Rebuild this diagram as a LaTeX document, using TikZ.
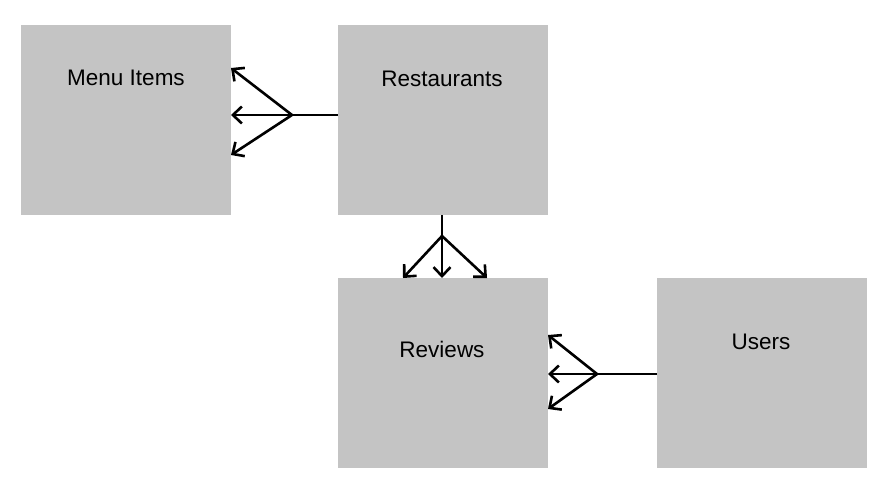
\documentclass[tikz,border=0pt]{standalone}
\usepackage{fontspec}
\setmainfont{Liberation Sans}
\usetikzlibrary{arrows.meta}
\definecolor{boxgray}{HTML}{C4C4C4}
\tikzset{
  entity/.style={fill=boxgray, draw=none, minimum width=210pt, minimum height=190pt, inner sep=0pt, anchor=north west},
  lbl/.style={font=\fontsize{22.5}{26}\selectfont, text=black, inner sep=0pt},
  conn/.style={line width=2.6pt, black},
  crow/.style={conn, -{Straight Barb[length=9pt,width=17pt,line width=2.6pt]}}
}
\begin{document}
\begin{tikzpicture}[x=1pt,y=-1pt]
\useasboundingbox (0,0) rectangle (878,482);
\node[entity] (menu) at (21,25) {};
\node[entity] (rest) at (338,25) {};
\node[entity] (rev) at (338,278) {};
\node[entity] (users) at (657,278) {};
\node[lbl] (tmenu) at (126,78) {Menu Items};
\node[lbl] (trest) at (442,79) {Restaurants};
\node[lbl] (trev) at (442,349) {Reviews};
\node[lbl] (tusers) at (761,342) {Users};
% Restaurants -> Menu Items
\coordinate (j1) at (292,115);
\coordinate (m1) at (231,68);
\coordinate (m2) at (231,115);
\coordinate (m3) at (231,155);
\draw[conn] (rest.west |- j1) -- (j1);
\draw[crow] (j1) -- (m1);
\draw[crow] (j1) -- (m2);
\draw[crow] (j1) -- (m3);
% Restaurants -> Reviews
\coordinate (j2) at (442,236);
\coordinate (r1) at (403,278);
\coordinate (r2) at (442,278);
\coordinate (r3) at (487,278);
\draw[conn] (rest.south -| j2) -- (j2);
\draw[crow] (j2) -- (r1);
\draw[crow] (j2) -- (r2);
\draw[crow] (j2) -- (r3);
% Users -> Reviews
\coordinate (j3) at (597,374);
\coordinate (v1) at (548,335);
\coordinate (v2) at (548,374);
\coordinate (v3) at (548,409);
\draw[conn] (users.west |- j3) -- (j3);
\draw[crow] (j3) -- (v1);
\draw[crow] (j3) -- (v2);
\draw[crow] (j3) -- (v3);
\end{tikzpicture}
\end{document}
